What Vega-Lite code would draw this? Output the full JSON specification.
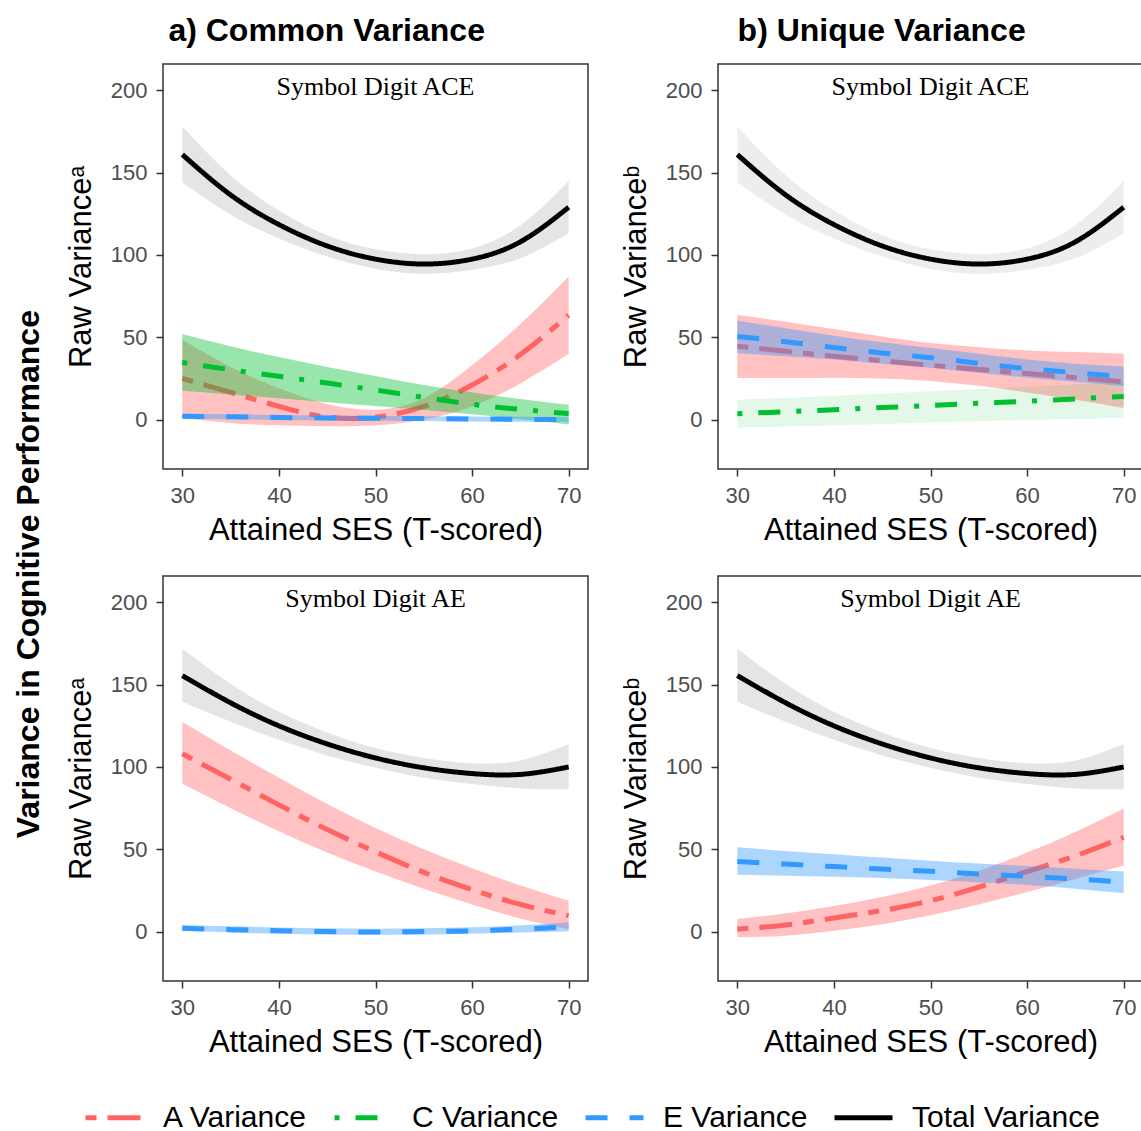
{
"$schema": "https://vega.github.io/schema/vega-lite/v6.json",
"padding": {"left": 12, "top": 15, "right": 0, "bottom": 0},
"title": {"text": "Variance in Cognitive Performance", "orient": "left", "fontSize": 32, "fontWeight": "bold", "anchor": "middle", "offset": 19, "color": "black"},
"data": {"values": [
{"p":"CA","s":"Total Variance","x":30,"v":161,"lo":144,"hi":178},
{"p":"CA","s":"Total Variance","x":35,"v":136.5,"lo":124.5,"hi":148.5},
{"p":"CA","s":"Total Variance","x":40,"v":118.5,"lo":110,"hi":127},
{"p":"CA","s":"Total Variance","x":45,"v":105.5,"lo":99,"hi":112},
{"p":"CA","s":"Total Variance","x":50,"v":97.5,"lo":91.5,"hi":103.5},
{"p":"CA","s":"Total Variance","x":55,"v":94.5,"lo":88.5,"hi":100.5},
{"p":"CA","s":"Total Variance","x":60,"v":97.5,"lo":91,"hi":104},
{"p":"CA","s":"Total Variance","x":65,"v":108,"lo":98,"hi":118},
{"p":"CA","s":"Total Variance","x":70,"v":129,"lo":113,"hi":145},
{"p":"CA","s":"A Variance","x":30,"v":25,"lo":1,"hi":48.5},
{"p":"CA","s":"A Variance","x":35,"v":16.5,"lo":-2,"hi":32},
{"p":"CA","s":"A Variance","x":40,"v":8,"lo":-3.5,"hi":19},
{"p":"CA","s":"A Variance","x":45,"v":1.5,"lo":-4,"hi":9.5},
{"p":"CA","s":"A Variance","x":50,"v":1.5,"lo":-3.5,"hi":6},
{"p":"CA","s":"A Variance","x":55,"v":8,"lo":0,"hi":13},
{"p":"CA","s":"A Variance","x":60,"v":21,"lo":8,"hi":33},
{"p":"CA","s":"A Variance","x":65,"v":39.5,"lo":22,"hi":58},
{"p":"CA","s":"A Variance","x":70,"v":63.5,"lo":40,"hi":87},
{"p":"CA","s":"C Variance","x":30,"v":34.7,"lo":17.5,"hi":52},
{"p":"CA","s":"C Variance","x":35,"v":30.3,"lo":15.3,"hi":44.5},
{"p":"CA","s":"C Variance","x":40,"v":26.3,"lo":13,"hi":38},
{"p":"CA","s":"C Variance","x":45,"v":22.2,"lo":10.6,"hi":32},
{"p":"CA","s":"C Variance","x":50,"v":18,"lo":8.3,"hi":26.5},
{"p":"CA","s":"C Variance","x":55,"v":13.5,"lo":5.8,"hi":21},
{"p":"CA","s":"C Variance","x":60,"v":9.3,"lo":3.2,"hi":16.5},
{"p":"CA","s":"C Variance","x":65,"v":6.2,"lo":0.2,"hi":12.5},
{"p":"CA","s":"C Variance","x":70,"v":3.6,"lo":-3,"hi":9},
{"p":"CA","s":"E Variance","x":30,"v":2,"lo":0.5,"hi":3.5},
{"p":"CA","s":"E Variance","x":35,"v":1.7,"lo":0.2,"hi":3.2},
{"p":"CA","s":"E Variance","x":40,"v":1.3,"lo":-0.2,"hi":2.8},
{"p":"CA","s":"E Variance","x":45,"v":1,"lo":-0.5,"hi":2.5},
{"p":"CA","s":"E Variance","x":50,"v":0.8,"lo":-0.7,"hi":2.3},
{"p":"CA","s":"E Variance","x":55,"v":0.6,"lo":-0.9,"hi":2.1},
{"p":"CA","s":"E Variance","x":60,"v":0.4,"lo":-1.1,"hi":1.9},
{"p":"CA","s":"E Variance","x":65,"v":0.2,"lo":-1.3,"hi":1.7},
{"p":"CA","s":"E Variance","x":70,"v":0,"lo":-1.5,"hi":1.5},
{"p":"UA","s":"Total Variance","x":30,"v":161,"lo":144,"hi":178},
{"p":"UA","s":"Total Variance","x":35,"v":136.5,"lo":124.5,"hi":148.5},
{"p":"UA","s":"Total Variance","x":40,"v":118.5,"lo":110,"hi":127},
{"p":"UA","s":"Total Variance","x":45,"v":105.5,"lo":99,"hi":112},
{"p":"UA","s":"Total Variance","x":50,"v":97.5,"lo":91.5,"hi":103.5},
{"p":"UA","s":"Total Variance","x":55,"v":94.5,"lo":88.5,"hi":100.5},
{"p":"UA","s":"Total Variance","x":60,"v":97.5,"lo":91,"hi":104},
{"p":"UA","s":"Total Variance","x":65,"v":108,"lo":98,"hi":118},
{"p":"UA","s":"Total Variance","x":70,"v":129,"lo":113,"hi":145},
{"p":"UA","s":"A Variance","x":30,"v":44.5,"lo":25.3,"hi":63.6},
{"p":"UA","s":"A Variance","x":35,"v":41.5,"lo":25.3,"hi":59.5},
{"p":"UA","s":"A Variance","x":40,"v":38.5,"lo":25.5,"hi":55},
{"p":"UA","s":"A Variance","x":45,"v":35.8,"lo":25,"hi":50.5},
{"p":"UA","s":"A Variance","x":50,"v":33,"lo":23.5,"hi":46.5},
{"p":"UA","s":"A Variance","x":55,"v":30.5,"lo":20.5,"hi":44},
{"p":"UA","s":"A Variance","x":60,"v":28,"lo":16.5,"hi":42},
{"p":"UA","s":"A Variance","x":65,"v":25.5,"lo":12,"hi":41},
{"p":"UA","s":"A Variance","x":70,"v":23,"lo":7,"hi":40},
{"p":"UA","s":"C Variance","x":30,"v":3.6,"lo":-5,"hi":12},
{"p":"UA","s":"C Variance","x":35,"v":4.8,"lo":-4.2,"hi":13.2},
{"p":"UA","s":"C Variance","x":40,"v":6,"lo":-3.4,"hi":14.5},
{"p":"UA","s":"C Variance","x":45,"v":7.3,"lo":-2.6,"hi":15.8},
{"p":"UA","s":"C Variance","x":50,"v":8.6,"lo":-1.8,"hi":17.2},
{"p":"UA","s":"C Variance","x":55,"v":9.9,"lo":-1,"hi":18.6},
{"p":"UA","s":"C Variance","x":60,"v":11.2,"lo":-0.3,"hi":20},
{"p":"UA","s":"C Variance","x":65,"v":12.6,"lo":0.4,"hi":21.5},
{"p":"UA","s":"C Variance","x":70,"v":14.1,"lo":1.2,"hi":23},
{"p":"UA","s":"E Variance","x":30,"v":50.5,"lo":40.5,"hi":60},
{"p":"UA","s":"E Variance","x":35,"v":47.3,"lo":38.5,"hi":55.5},
{"p":"UA","s":"E Variance","x":40,"v":43.8,"lo":36.5,"hi":51},
{"p":"UA","s":"E Variance","x":45,"v":40.5,"lo":34,"hi":47},
{"p":"UA","s":"E Variance","x":50,"v":37.6,"lo":31.5,"hi":43.5},
{"p":"UA","s":"E Variance","x":55,"v":34.2,"lo":28.5,"hi":40},
{"p":"UA","s":"E Variance","x":60,"v":31,"lo":25.5,"hi":36.5},
{"p":"UA","s":"E Variance","x":65,"v":28.5,"lo":23,"hi":34},
{"p":"UA","s":"E Variance","x":70,"v":26,"lo":20.3,"hi":32.3},
{"p":"CE","s":"Total Variance","x":30,"v":155.5,"lo":139.4,"hi":171.8},
{"p":"CE","s":"Total Variance","x":35,"v":139,"lo":127.5,"hi":150.5},
{"p":"CE","s":"Total Variance","x":40,"v":125,"lo":116.5,"hi":133.5},
{"p":"CE","s":"Total Variance","x":45,"v":114,"lo":107,"hi":121},
{"p":"CE","s":"Total Variance","x":50,"v":105.5,"lo":99.5,"hi":111.5},
{"p":"CE","s":"Total Variance","x":55,"v":99.5,"lo":93.5,"hi":105.5},
{"p":"CE","s":"Total Variance","x":60,"v":96,"lo":89.7,"hi":102.3},
{"p":"CE","s":"Total Variance","x":65,"v":95.5,"lo":87,"hi":104},
{"p":"CE","s":"Total Variance","x":70,"v":100,"lo":86.5,"hi":114},
{"p":"CE","s":"A Variance","x":30,"v":108,"lo":89.8,"hi":127.3},
{"p":"CE","s":"A Variance","x":35,"v":92.5,"lo":75,"hi":110},
{"p":"CE","s":"A Variance","x":40,"v":77,"lo":61,"hi":93.5},
{"p":"CE","s":"A Variance","x":45,"v":62,"lo":48,"hi":77.5},
{"p":"CE","s":"A Variance","x":50,"v":48.5,"lo":36.5,"hi":63},
{"p":"CE","s":"A Variance","x":55,"v":36,"lo":26,"hi":50},
{"p":"CE","s":"A Variance","x":60,"v":25.5,"lo":16.5,"hi":38.5},
{"p":"CE","s":"A Variance","x":65,"v":16.5,"lo":8,"hi":28},
{"p":"CE","s":"A Variance","x":70,"v":9.7,"lo":1.5,"hi":18.8},
{"p":"CE","s":"E Variance","x":30,"v":2,"lo":0.5,"hi":4},
{"p":"CE","s":"E Variance","x":35,"v":1.2,"lo":-0.5,"hi":3.2},
{"p":"CE","s":"E Variance","x":40,"v":0.5,"lo":-1.3,"hi":2.5},
{"p":"CE","s":"E Variance","x":45,"v":0,"lo":-1.7,"hi":2},
{"p":"CE","s":"E Variance","x":50,"v":-0.2,"lo":-1.9,"hi":1.8},
{"p":"CE","s":"E Variance","x":55,"v":0,"lo":-1.7,"hi":2},
{"p":"CE","s":"E Variance","x":60,"v":0.5,"lo":-1.3,"hi":2.6},
{"p":"CE","s":"E Variance","x":65,"v":1.5,"lo":-0.6,"hi":3.8},
{"p":"CE","s":"E Variance","x":70,"v":2.8,"lo":0,"hi":5.7},
{"p":"UE","s":"Total Variance","x":30,"v":155.5,"lo":139.4,"hi":171.8},
{"p":"UE","s":"Total Variance","x":35,"v":139,"lo":127.5,"hi":150.5},
{"p":"UE","s":"Total Variance","x":40,"v":125,"lo":116.5,"hi":133.5},
{"p":"UE","s":"Total Variance","x":45,"v":114,"lo":107,"hi":121},
{"p":"UE","s":"Total Variance","x":50,"v":105.5,"lo":99.5,"hi":111.5},
{"p":"UE","s":"Total Variance","x":55,"v":99.5,"lo":93.5,"hi":105.5},
{"p":"UE","s":"Total Variance","x":60,"v":96,"lo":89.7,"hi":102.3},
{"p":"UE","s":"Total Variance","x":65,"v":95.5,"lo":87,"hi":104},
{"p":"UE","s":"Total Variance","x":70,"v":100,"lo":86.5,"hi":114},
{"p":"UE","s":"A Variance","x":30,"v":1.6,"lo":-3.4,"hi":7.7},
{"p":"UE","s":"A Variance","x":35,"v":4,"lo":-2.5,"hi":11},
{"p":"UE","s":"A Variance","x":40,"v":8.3,"lo":0.5,"hi":15.5},
{"p":"UE","s":"A Variance","x":45,"v":12.8,"lo":4.5,"hi":21},
{"p":"UE","s":"A Variance","x":50,"v":18.8,"lo":10,"hi":28},
{"p":"UE","s":"A Variance","x":55,"v":27,"lo":16.5,"hi":37},
{"p":"UE","s":"A Variance","x":60,"v":36.5,"lo":24,"hi":48},
{"p":"UE","s":"A Variance","x":65,"v":46,"lo":32,"hi":60.5},
{"p":"UE","s":"A Variance","x":70,"v":57.3,"lo":40.1,"hi":74.6},
{"p":"UE","s":"E Variance","x":30,"v":42.6,"lo":34.5,"hi":51.3},
{"p":"UE","s":"E Variance","x":35,"v":41,"lo":34,"hi":49},
{"p":"UE","s":"E Variance","x":40,"v":39.5,"lo":33.3,"hi":47},
{"p":"UE","s":"E Variance","x":45,"v":38,"lo":32.5,"hi":45},
{"p":"UE","s":"E Variance","x":50,"v":36.6,"lo":31.3,"hi":43},
{"p":"UE","s":"E Variance","x":55,"v":35,"lo":30,"hi":41.3},
{"p":"UE","s":"E Variance","x":60,"v":33.6,"lo":28.3,"hi":39.8},
{"p":"UE","s":"E Variance","x":65,"v":32,"lo":26,"hi":38.2},
{"p":"UE","s":"E Variance","x":70,"v":30,"lo":23.3,"hi":36.5}
]},
"spacing": 30,
"resolve": {"scale": {"color": "shared", "strokeDash": "shared"}},
"hconcat": [
{"title": {"text": "a) Common Variance", "fontSize": 32, "fontWeight": "bold", "anchor": "middle", "baseline": "bottom", "offset": -17, "color": "black"},
 "spacing": 29,
 "vconcat": [
 {"width": 425, "height": 405,
  "title": {"text": "Symbol Digit ACE", "font": "Liberation Serif", "fontSize": 26, "fontWeight": "normal", "color": "black", "anchor": "middle", "frame": "group", "baseline": "top", "offset": -36},
  "transform": [{"filter": "datum.p == 'CA'"}],
  "encoding": {"x": {"field": "x", "type": "quantitative", "scale": {"domain": [28, 72], "nice": false, "zero": false}, "axis": {"values": [30, 40, 50, 60, 70], "title": "Attained SES (T-scored)", "labelFlush": false}}},
  "layer": [
   {"transform": [{"filter": "datum.s == 'A Variance'"}], "mark": {"type": "area", "color": "#FF6464", "opacity": 0.4}, "encoding": {"y": {"field": "lo", "type": "quantitative", "scale": {"domain": [-30, 216], "nice": false, "zero": false}, "axis": {"values": [0, 50, 100, 150, 200], "title": "Raw Varianceᵃ"}}, "y2": {"field": "hi"}}},
   {"transform": [{"filter": "datum.s == 'A Variance'"}], "mark": {"type": "line"}, "encoding": {"y": {"field": "v", "type": "quantitative", "scale": {"domain": [-30, 216], "nice": false, "zero": false}, "axis": {"values": [0, 50, 100, 150, 200], "title": "Raw Varianceᵃ"}}, "color": {"field": "s", "type": "nominal", "scale": {"domain": ["A Variance", "C Variance", "E Variance", "Total Variance"], "range": ["#FF6464", "#00C031", "#3399FF", "#000000"]}, "legend": {"title": null, "orient": "none", "direction": "horizontal", "legendX": -80, "legendY": 1022}}, "strokeDash": {"field": "s", "type": "nominal", "scale": {"domain": ["A Variance", "C Variance", "E Variance", "Total Variance"], "range": [[11, 11, 33, 11], [5, 16, 22, 16], [22, 22], [1, 0]]}, "legend": {"title": null, "orient": "none", "direction": "horizontal", "legendX": -80, "legendY": 1022}}}},
   {"transform": [{"filter": "datum.s == 'C Variance'"}], "mark": {"type": "area", "color": "#00C031", "opacity": 0.4}, "encoding": {"y": {"field": "lo", "type": "quantitative", "scale": {"domain": [-30, 216], "nice": false, "zero": false}, "axis": {"values": [0, 50, 100, 150, 200], "title": "Raw Varianceᵃ"}}, "y2": {"field": "hi"}}},
   {"transform": [{"filter": "datum.s == 'C Variance'"}], "mark": {"type": "line"}, "encoding": {"y": {"field": "v", "type": "quantitative", "scale": {"domain": [-30, 216], "nice": false, "zero": false}, "axis": {"values": [0, 50, 100, 150, 200], "title": "Raw Varianceᵃ"}}, "color": {"field": "s", "type": "nominal"}, "strokeDash": {"field": "s", "type": "nominal"}}},
   {"transform": [{"filter": "datum.s == 'E Variance'"}], "mark": {"type": "area", "color": "#3399FF", "opacity": 0.4}, "encoding": {"y": {"field": "lo", "type": "quantitative", "scale": {"domain": [-30, 216], "nice": false, "zero": false}, "axis": {"values": [0, 50, 100, 150, 200], "title": "Raw Varianceᵃ"}}, "y2": {"field": "hi"}}},
   {"transform": [{"filter": "datum.s == 'E Variance'"}], "mark": {"type": "line"}, "encoding": {"y": {"field": "v", "type": "quantitative", "scale": {"domain": [-30, 216], "nice": false, "zero": false}, "axis": {"values": [0, 50, 100, 150, 200], "title": "Raw Varianceᵃ"}}, "color": {"field": "s", "type": "nominal"}, "strokeDash": {"field": "s", "type": "nominal"}}},
   {"transform": [{"filter": "datum.s == 'Total Variance'"}], "mark": {"type": "area", "color": "#000000", "opacity": 0.1}, "encoding": {"y": {"field": "lo", "type": "quantitative", "scale": {"domain": [-30, 216], "nice": false, "zero": false}, "axis": {"values": [0, 50, 100, 150, 200], "title": "Raw Varianceᵃ"}}, "y2": {"field": "hi"}}},
   {"transform": [{"filter": "datum.s == 'Total Variance'"}], "mark": {"type": "line"}, "encoding": {"y": {"field": "v", "type": "quantitative", "scale": {"domain": [-30, 216], "nice": false, "zero": false}, "axis": {"values": [0, 50, 100, 150, 200], "title": "Raw Varianceᵃ"}}, "color": {"field": "s", "type": "nominal"}, "strokeDash": {"field": "s", "type": "nominal"}}}
  ]},
 {"width": 425, "height": 405,
  "title": {"text": "Symbol Digit AE", "font": "Liberation Serif", "fontSize": 26, "fontWeight": "normal", "color": "black", "anchor": "middle", "frame": "group", "baseline": "top", "offset": -36},
  "transform": [{"filter": "datum.p == 'CE'"}],
  "encoding": {"x": {"field": "x", "type": "quantitative", "scale": {"domain": [28, 72], "nice": false, "zero": false}, "axis": {"values": [30, 40, 50, 60, 70], "title": "Attained SES (T-scored)", "labelFlush": false}}},
  "layer": [
   {"transform": [{"filter": "datum.s == 'A Variance'"}], "mark": {"type": "area", "color": "#FF6464", "opacity": 0.4}, "encoding": {"y": {"field": "lo", "type": "quantitative", "scale": {"domain": [-30, 216], "nice": false, "zero": false}, "axis": {"values": [0, 50, 100, 150, 200], "title": "Raw Varianceᵃ"}}, "y2": {"field": "hi"}}},
   {"transform": [{"filter": "datum.s == 'A Variance'"}], "mark": {"type": "line"}, "encoding": {"y": {"field": "v", "type": "quantitative", "scale": {"domain": [-30, 216], "nice": false, "zero": false}, "axis": {"values": [0, 50, 100, 150, 200], "title": "Raw Varianceᵃ"}}, "color": {"field": "s", "type": "nominal"}, "strokeDash": {"field": "s", "type": "nominal"}}},
   {"transform": [{"filter": "datum.s == 'E Variance'"}], "mark": {"type": "area", "color": "#3399FF", "opacity": 0.4}, "encoding": {"y": {"field": "lo", "type": "quantitative", "scale": {"domain": [-30, 216], "nice": false, "zero": false}, "axis": {"values": [0, 50, 100, 150, 200], "title": "Raw Varianceᵃ"}}, "y2": {"field": "hi"}}},
   {"transform": [{"filter": "datum.s == 'E Variance'"}], "mark": {"type": "line"}, "encoding": {"y": {"field": "v", "type": "quantitative", "scale": {"domain": [-30, 216], "nice": false, "zero": false}, "axis": {"values": [0, 50, 100, 150, 200], "title": "Raw Varianceᵃ"}}, "color": {"field": "s", "type": "nominal"}, "strokeDash": {"field": "s", "type": "nominal"}}},
   {"transform": [{"filter": "datum.s == 'Total Variance'"}], "mark": {"type": "area", "color": "#000000", "opacity": 0.1}, "encoding": {"y": {"field": "lo", "type": "quantitative", "scale": {"domain": [-30, 216], "nice": false, "zero": false}, "axis": {"values": [0, 50, 100, 150, 200], "title": "Raw Varianceᵃ"}}, "y2": {"field": "hi"}}},
   {"transform": [{"filter": "datum.s == 'Total Variance'"}], "mark": {"type": "line"}, "encoding": {"y": {"field": "v", "type": "quantitative", "scale": {"domain": [-30, 216], "nice": false, "zero": false}, "axis": {"values": [0, 50, 100, 150, 200], "title": "Raw Varianceᵃ"}}, "color": {"field": "s", "type": "nominal"}, "strokeDash": {"field": "s", "type": "nominal"}}}
  ]}
 ]},
{"title": {"text": "b) Unique Variance", "fontSize": 32, "fontWeight": "bold", "anchor": "middle", "baseline": "bottom", "offset": -17, "color": "black"},
 "spacing": 29,
 "vconcat": [
 {"width": 425, "height": 405,
  "title": {"text": "Symbol Digit ACE", "font": "Liberation Serif", "fontSize": 26, "fontWeight": "normal", "color": "black", "anchor": "middle", "frame": "group", "baseline": "top", "offset": -36},
  "transform": [{"filter": "datum.p == 'UA'"}],
  "encoding": {"x": {"field": "x", "type": "quantitative", "scale": {"domain": [28, 72], "nice": false, "zero": false}, "axis": {"values": [30, 40, 50, 60, 70], "title": "Attained SES (T-scored)", "labelFlush": false}}},
  "layer": [
   {"transform": [{"filter": "datum.s == 'A Variance'"}], "mark": {"type": "area", "color": "#FF6464", "opacity": 0.4}, "encoding": {"y": {"field": "lo", "type": "quantitative", "scale": {"domain": [-30, 216], "nice": false, "zero": false}, "axis": {"values": [0, 50, 100, 150, 200], "title": "Raw Varianceᵇ"}}, "y2": {"field": "hi"}}},
   {"transform": [{"filter": "datum.s == 'A Variance'"}], "mark": {"type": "line"}, "encoding": {"y": {"field": "v", "type": "quantitative", "scale": {"domain": [-30, 216], "nice": false, "zero": false}, "axis": {"values": [0, 50, 100, 150, 200], "title": "Raw Varianceᵇ"}}, "color": {"field": "s", "type": "nominal"}, "strokeDash": {"field": "s", "type": "nominal"}}},
   {"transform": [{"filter": "datum.s == 'C Variance'"}], "mark": {"type": "area", "color": "#00C031", "opacity": 0.11}, "encoding": {"y": {"field": "lo", "type": "quantitative", "scale": {"domain": [-30, 216], "nice": false, "zero": false}, "axis": {"values": [0, 50, 100, 150, 200], "title": "Raw Varianceᵇ"}}, "y2": {"field": "hi"}}},
   {"transform": [{"filter": "datum.s == 'C Variance'"}], "mark": {"type": "line"}, "encoding": {"y": {"field": "v", "type": "quantitative", "scale": {"domain": [-30, 216], "nice": false, "zero": false}, "axis": {"values": [0, 50, 100, 150, 200], "title": "Raw Varianceᵇ"}}, "color": {"field": "s", "type": "nominal"}, "strokeDash": {"field": "s", "type": "nominal"}}},
   {"transform": [{"filter": "datum.s == 'E Variance'"}], "mark": {"type": "area", "color": "#3399FF", "opacity": 0.4}, "encoding": {"y": {"field": "lo", "type": "quantitative", "scale": {"domain": [-30, 216], "nice": false, "zero": false}, "axis": {"values": [0, 50, 100, 150, 200], "title": "Raw Varianceᵇ"}}, "y2": {"field": "hi"}}},
   {"transform": [{"filter": "datum.s == 'E Variance'"}], "mark": {"type": "line"}, "encoding": {"y": {"field": "v", "type": "quantitative", "scale": {"domain": [-30, 216], "nice": false, "zero": false}, "axis": {"values": [0, 50, 100, 150, 200], "title": "Raw Varianceᵇ"}}, "color": {"field": "s", "type": "nominal"}, "strokeDash": {"field": "s", "type": "nominal"}}},
   {"transform": [{"filter": "datum.s == 'Total Variance'"}], "mark": {"type": "area", "color": "#000000", "opacity": 0.07}, "encoding": {"y": {"field": "lo", "type": "quantitative", "scale": {"domain": [-30, 216], "nice": false, "zero": false}, "axis": {"values": [0, 50, 100, 150, 200], "title": "Raw Varianceᵇ"}}, "y2": {"field": "hi"}}},
   {"transform": [{"filter": "datum.s == 'Total Variance'"}], "mark": {"type": "line"}, "encoding": {"y": {"field": "v", "type": "quantitative", "scale": {"domain": [-30, 216], "nice": false, "zero": false}, "axis": {"values": [0, 50, 100, 150, 200], "title": "Raw Varianceᵇ"}}, "color": {"field": "s", "type": "nominal"}, "strokeDash": {"field": "s", "type": "nominal"}}}
  ]},
 {"width": 425, "height": 405,
  "title": {"text": "Symbol Digit AE", "font": "Liberation Serif", "fontSize": 26, "fontWeight": "normal", "color": "black", "anchor": "middle", "frame": "group", "baseline": "top", "offset": -36},
  "transform": [{"filter": "datum.p == 'UE'"}],
  "encoding": {"x": {"field": "x", "type": "quantitative", "scale": {"domain": [28, 72], "nice": false, "zero": false}, "axis": {"values": [30, 40, 50, 60, 70], "title": "Attained SES (T-scored)", "labelFlush": false}}},
  "layer": [
   {"transform": [{"filter": "datum.s == 'A Variance'"}], "mark": {"type": "area", "color": "#FF6464", "opacity": 0.4}, "encoding": {"y": {"field": "lo", "type": "quantitative", "scale": {"domain": [-30, 216], "nice": false, "zero": false}, "axis": {"values": [0, 50, 100, 150, 200], "title": "Raw Varianceᵇ"}}, "y2": {"field": "hi"}}},
   {"transform": [{"filter": "datum.s == 'A Variance'"}], "mark": {"type": "line"}, "encoding": {"y": {"field": "v", "type": "quantitative", "scale": {"domain": [-30, 216], "nice": false, "zero": false}, "axis": {"values": [0, 50, 100, 150, 200], "title": "Raw Varianceᵇ"}}, "color": {"field": "s", "type": "nominal"}, "strokeDash": {"field": "s", "type": "nominal"}}},
   {"transform": [{"filter": "datum.s == 'E Variance'"}], "mark": {"type": "area", "color": "#3399FF", "opacity": 0.4}, "encoding": {"y": {"field": "lo", "type": "quantitative", "scale": {"domain": [-30, 216], "nice": false, "zero": false}, "axis": {"values": [0, 50, 100, 150, 200], "title": "Raw Varianceᵇ"}}, "y2": {"field": "hi"}}},
   {"transform": [{"filter": "datum.s == 'E Variance'"}], "mark": {"type": "line"}, "encoding": {"y": {"field": "v", "type": "quantitative", "scale": {"domain": [-30, 216], "nice": false, "zero": false}, "axis": {"values": [0, 50, 100, 150, 200], "title": "Raw Varianceᵇ"}}, "color": {"field": "s", "type": "nominal"}, "strokeDash": {"field": "s", "type": "nominal"}}},
   {"transform": [{"filter": "datum.s == 'Total Variance'"}], "mark": {"type": "area", "color": "#000000", "opacity": 0.1}, "encoding": {"y": {"field": "lo", "type": "quantitative", "scale": {"domain": [-30, 216], "nice": false, "zero": false}, "axis": {"values": [0, 50, 100, 150, 200], "title": "Raw Varianceᵇ"}}, "y2": {"field": "hi"}}},
   {"transform": [{"filter": "datum.s == 'Total Variance'"}], "mark": {"type": "line"}, "encoding": {"y": {"field": "v", "type": "quantitative", "scale": {"domain": [-30, 216], "nice": false, "zero": false}, "axis": {"values": [0, 50, 100, 150, 200], "title": "Raw Varianceᵇ"}}, "color": {"field": "s", "type": "nominal"}, "strokeDash": {"field": "s", "type": "nominal"}}}
  ]}
 ]}
],
"config": {
 "font": "Liberation Sans",
 "view": {"stroke": "#333333", "strokeWidth": 1.5},
 "line": {"strokeWidth": 5, "interpolate": "natural"},
 "area": {"interpolate": "natural"},
 "axis": {"domain": false, "grid": false, "tickColor": "#333333", "tickWidth": 1.5, "tickSize": 7, "labelColor": "#4D4D4D", "labelFontSize": 22, "labelFont": "Liberation Sans", "titleFont": "Liberation Sans", "titleFontSize": 31, "titleFontWeight": "normal", "titleColor": "black", "labelPadding": 9, "titlePadding": 9},
 "axisY": {"labelPadding": 9, "titlePadding": 13},
 "legend": {"labelFontSize": 30, "labelColor": "black", "labelFont": "Liberation Sans", "labelLimit": 400, "symbolType": "stroke", "symbolSize": 3364, "symbolStrokeWidth": 5, "labelOffset": 17, "columnPadding": 16}
}
}
